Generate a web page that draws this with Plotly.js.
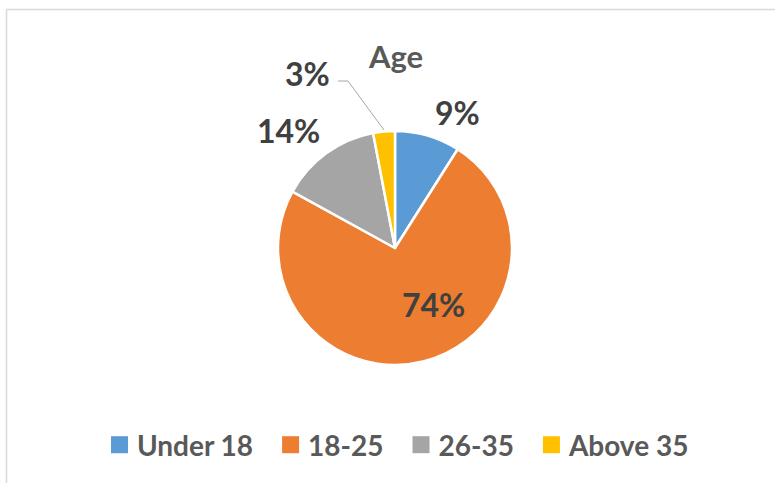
<!DOCTYPE html>
<html>
<head>
<meta charset="utf-8">
<script src="https://cdn.plot.ly/plotly-3.0.1.min.js"></script>
<style>
  html, body { margin: 0; padding: 0; background: #ffffff; }
  #chart { width: 775px; height: 483px; }
</style>
</head>
<body>
<div id="chart"></div>
<script>
// ---- data ----
const categories = ['Under 18', '18-25', '26-35', 'Above 35'];
const shares = [9, 74, 14, 3];
const sliceColors = ['#5B9BD5', '#ED7D31', '#A5A5A5', '#FFC000'];
const chartTitle = 'Age';

// ---- layout helpers (pixel positions of the percent labels, in figure px) ----
const W = 775, H = 483;
const labelPx = [[457, 113], [433, 304], [288, 130], [307, 73]];
const px = (x) => x / W;
const py = (y) => 1 - y / H;

const total = shares.reduce((a, b) => a + b, 0);

const trace = {
  type: 'pie',
  labels: categories,
  values: shares,
  sort: false,
  direction: 'clockwise',
  rotation: 0,
  marker: { colors: sliceColors, line: { color: '#ffffff', width: 2.5 } },
  textinfo: 'none',
  hoverinfo: 'label+percent',
  domain: { x: [px(278), px(512)], y: [py(365), py(131)] },
  automargin: false
};

const annotations = shares.map((v, i) => ({
  xref: 'paper', yref: 'paper',
  x: px(labelPx[i][0]), y: py(labelPx[i][1]),
  xanchor: 'center', yanchor: 'middle',
  text: Math.round(v / total * 100) + '%',
  showarrow: false,
  font: { family: 'Lato, sans-serif', size: 32, weight: 'bold', color: '#404040' }
}));

const layout = {
  width: W, height: H,
  margin: { l: 0, r: 0, t: 0, b: 0 },
  paper_bgcolor: '#ffffff',
  plot_bgcolor: '#ffffff',
  title: {
    text: chartTitle,
    x: px(396), xanchor: 'center',
    y: py(57), yanchor: 'middle',
    font: { family: 'Lato, sans-serif', size: 31, weight: 'bold', color: '#595959' }
  },
  showlegend: true,
  legend: {
    orientation: 'h',
    x: px(391), xanchor: 'center',
    y: py(445), yanchor: 'middle',
    itemwidth: 40,
    font: { family: 'Lato, sans-serif', size: 28, weight: 'bold', color: '#595959' },
    traceorder: 'normal'
  },
  annotations: annotations,
  shapes: [
    { type: 'line', xref: 'paper', yref: 'paper', x0: px(6.5), x1: 1, y0: py(9.5), y1: py(9.5),
      line: { color: '#d9d9d9', width: 1.5 } },
    { type: 'line', xref: 'paper', yref: 'paper', x0: px(6.5), x1: px(6.5), y0: py(9.5), y1: 0,
      line: { color: '#d9d9d9', width: 1.5 } },
    { type: 'path', xref: 'paper', yref: 'paper',
      path: 'M' + px(338) + ',' + py(81) + ' L' + px(348) + ',' + py(81) + ' L' + px(384) + ',' + py(130),
      line: { color: '#a6a6a6', width: 1 } }
  ]
};

Plotly.newPlot('chart', [trace], layout, { displayModeBar: false, staticPlot: true }).then(function (gd) {
  // enlarge the legend colour squares and sit them closer to their text, as in the reference key
  gd.querySelectorAll('path.legendpie').forEach(function (p) {
    p.setAttribute('d', 'M16,8.5H-1V-8.5H16Z');
    p.style.strokeWidth = '0px';
  });
});
</script>
</body>
</html>
